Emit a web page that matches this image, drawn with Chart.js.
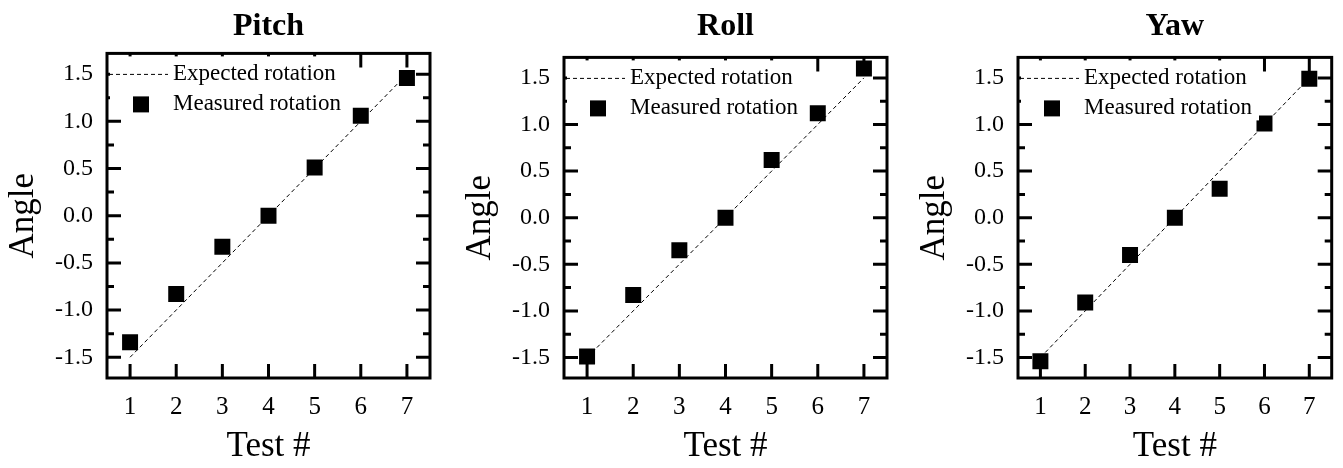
<!DOCTYPE html>
<html>
<head>
<meta charset="utf-8">
<script src="https://cdn.jsdelivr.net/npm/chart.js@4"></script>
<style>
  body { margin: 0; background: #fff; }
  #wrap { position: relative; width: 1343px; height: 468px; overflow: hidden; }
  canvas { position: absolute; top: 0; }
</style>
</head>
<body>
<div id="wrap">
  <canvas id="pitch" width="445" height="468" style="left:0px"></canvas>
  <canvas id="roll" width="445" height="468" style="left:457px"></canvas>
  <canvas id="yaw" width="432" height="468" style="left:911px"></canvas>
</div>
<script>
// data
var tests = [1, 2, 3, 4, 5, 6, 7]
var expected = [-1.5, -1.0, -0.5, 0.0, 0.5, 1.0, 1.5]
var pitchMeasured = [-1.34, -0.83, -0.33, 0.0, 0.51, 1.06, 1.46]
var rollMeasured = [-1.49, -0.83, -0.35, 0.0, 0.62, 1.12, 1.60]
var yawMeasured = [-1.54, -0.91, -0.40, 0.0, 0.31, 1.01, 1.49]
var yTicks = [-1.5, -1.0, -0.5, 0.0, 0.5, 1.0, 1.5]
var legendLabels = ['Expected rotation', 'Measured rotation']

var serif = '"Liberation Serif", "Times New Roman", serif'
Chart.defaults.font.family = serif
Chart.defaults.color = '#000'

// frame, inward ticks and the legend box
var framePlugin = {
    id: 'frame',
    afterDraw: function (chart) {
        let ctx = chart.ctx
        let a = chart.chartArea
        let xs = chart.scales.x, ys = chart.scales.y
        ctx.save()
        ctx.strokeStyle = '#000'
        ctx.lineWidth = 3
        ctx.lineCap = 'butt'
        ctx.beginPath()
        ys.ticks.forEach(function (t, i) {
            let py = ys.getPixelForValue(t.value)
            ctx.moveTo(a.left, py); ctx.lineTo(a.left + 14, py)
            ctx.moveTo(a.right, py); ctx.lineTo(a.right - 14, py)
            let minors = [t.value + 0.25]
            if (i === 0) minors.push(t.value - 0.25)
            minors.forEach(function (m) {
                if (m <= ys.min || m >= ys.max) return
                let pm = ys.getPixelForValue(m)
                ctx.moveTo(a.left, pm); ctx.lineTo(a.left + 7, pm)
                ctx.moveTo(a.right, pm); ctx.lineTo(a.right - 7, pm)
            })
        })
        xs.ticks.forEach(function (t) {
            let px = xs.getPixelForValue(t.value)
            ctx.moveTo(px, a.bottom); ctx.lineTo(px, a.bottom - 14)
            ctx.moveTo(px, a.top); ctx.lineTo(px, a.top + 14)
        })
        ctx.stroke()

        // legend
        ctx.fillStyle = '#fff'
        ctx.fillRect(a.left + 3, a.top + 3, 238, 60)
        ctx.lineWidth = 1
        ctx.setLineDash([4, 3])
        ctx.beginPath()
        ctx.moveTo(a.left + 2, a.top + 21)
        ctx.lineTo(a.left + 61, a.top + 21)
        ctx.stroke()
        ctx.setLineDash([])
        ctx.fillStyle = '#000'
        ctx.fillRect(a.left + 26, a.top + 43, 16, 16)
        ctx.font = '23px ' + serif
        ctx.textBaseline = 'middle'
        ctx.textAlign = 'left'
        ctx.fillText(legendLabels[0], a.left + 66, a.top + 21)
        ctx.fillText(legendLabels[1], a.left + 66, a.top + 51)

        ctx.lineWidth = 3
        ctx.strokeRect(a.left, a.top, a.right - a.left, a.bottom - a.top)
        ctx.restore()
    }
}

function makeChart(id, title, measured, titlePadBottom, padRight) {
    let ctx = document.getElementById(id).getContext('2d')
    return new Chart(ctx, {
        type: 'scatter',
        data: {
            datasets: [{
                label: legendLabels[0],
                data: tests.map(function (t, i) { return {x: t, y: expected[i]} }),
                showLine: true,
                borderColor: '#000',
                borderWidth: 1,
                borderDash: [4, 3],
                pointRadius: 0
            }, {
                label: legendLabels[1],
                data: tests.map(function (t, i) { return {x: t, y: measured[i]} }),
                showLine: false,
                pointStyle: 'rect',
                pointRadius: 11.3,
                backgroundColor: '#000',
                borderWidth: 0
            }]
        },
        options: {
            responsive: false,
            animation: false,
            events: [],
            devicePixelRatio: 1,
            layout: {padding: {left: 0, right: padRight, top: 0, bottom: 0}},
            plugins: {
                legend: {display: false},
                tooltip: {enabled: false},
                title: {
                    display: true,
                    text: title,
                    fullSize: false,
                    color: '#000',
                    font: {size: 32, weight: 'bold'},
                    padding: {top: 8, bottom: titlePadBottom}
                }
            },
            scales: {
                x: {
                    type: 'linear',
                    min: 0.5,
                    max: 7.5,
                    grid: {display: false, drawTicks: false},
                    border: {display: false},
                    afterBuildTicks: function (s) { s.ticks = tests.map(function (v) { return {value: v} }) },
                    ticks: {padding: 14, color: '#000', font: {size: 25}},
                    title: {display: true, text: 'Test #', color: '#000', font: {size: 35}, padding: {top: 0, bottom: 0}},
                    afterFit: function (s) { s.height = 90 }
                },
                y: {
                    min: -1.72,
                    max: 1.72,
                    grid: {display: false, drawTicks: false},
                    border: {display: false},
                    afterBuildTicks: function (s) { s.ticks = yTicks.map(function (v) { return {value: v} }) },
                    ticks: {
                        padding: 14, color: '#000', font: {size: 24},
                        callback: function (v) { return v.toFixed(1) }
                    },
                    title: {display: true, text: 'Angle', color: '#000', font: {size: 35}, padding: {top: 3, bottom: 0}},
                    afterFit: function (s) { s.width = 107 }
                }
            }
        },
        plugins: [framePlugin]
    })
}

makeChart('pitch', 'Pitch', pitchMeasured, 7, 15)
makeChart('roll', 'Roll', rollMeasured, 11, 15)
makeChart('yaw', 'Yaw', yawMeasured, 11, 5)
</script>
</body>
</html>
